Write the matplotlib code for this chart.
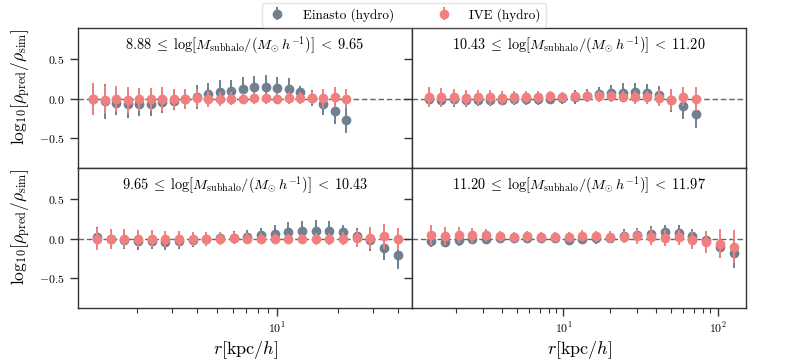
import matplotlib
matplotlib.use("Agg")
import matplotlib.pyplot as plt
import numpy as np

plt.rcParams.update({
    "font.family": "serif",
    "font.serif": ["cmr10", "DejaVu Serif"],
    "mathtext.fontset": "cm",
    "axes.formatter.use_mathtext": True,
    "axes.unicode_minus": True,
})

# ---------------- data ----------------
titles = [
    r"$8.88\;\leq\;\mathrm{log}[M_{\mathrm{subhalo}}/(M_{\odot}\,h^{-1})]\;<\;9.65$",
    r"$10.43\;\leq\;\mathrm{log}[M_{\mathrm{subhalo}}/(M_{\odot}\,h^{-1})]\;<\;11.20$",
    r"$9.65\;\leq\;\mathrm{log}[M_{\mathrm{subhalo}}/(M_{\odot}\,h^{-1})]\;<\;10.43$",
    r"$11.20\;\leq\;\mathrm{log}[M_{\mathrm{subhalo}}/(M_{\odot}\,h^{-1})]\;<\;11.97$",
]

# panel 1 (top-left)
r_tl = [1.211, 1.382, 1.577, 1.800, 2.054, 2.344, 2.675, 3.053, 3.484, 3.976, 4.537,
        5.178, 5.909, 6.744, 7.696, 8.782, 10.02, 11.44, 13.05, 14.90, 17.00, 19.40, 22.14]
ein_tl = [0.0, -0.034, -0.055, -0.07, -0.063, -0.063, -0.046, -0.025, 0.0, 0.025, 0.06,
          0.085, 0.105, 0.13, 0.145, 0.15, 0.14, 0.12, 0.08, 0.01, -0.063, -0.16, -0.27]
ein_tl_err = [0.2, 0.22, 0.15, 0.18, 0.15, 0.16, 0.13, 0.12, 0.13, 0.15, 0.14,
              0.16, 0.14, 0.15, 0.15, 0.15, 0.135, 0.14, 0.085, 0.1, 0.14, 0.16, 0.16]
ive_tl = [0.0, -0.01, -0.004, -0.015, -0.008, -0.008, 0.0, 0.0, 0.0, 0.01, 0.0,
          0.0, 0.0, 0.0, 0.004, 0.004, 0.0, 0.01, 0.01, 0.015, 0.008, 0.02, 0.0]
ive_tl_err = [0.2, 0.18, 0.17, 0.16, 0.15, 0.15, 0.15, 0.13, 0.13, 0.11, 0.1,
              0.09, 0.08, 0.07, 0.07, 0.07, 0.07, 0.07, 0.08, 0.08, 0.12, 0.13, 0.12]

# panel 2 (top-right)
r_tr = [1.349, 1.616, 1.936, 2.320, 2.779, 3.330, 3.990, 4.780, 5.728, 6.862, 8.222,
        9.851, 11.80, 14.14, 16.95, 20.30, 24.33, 29.15, 34.92, 41.85, 50.14, 60.07, 71.97]
ein_tr = [-0.005, -0.01, -0.008, -0.01, -0.01, -0.01, -0.01, -0.008, -0.005, -0.005, 0.0,
          0.005, 0.02, 0.04, 0.055, 0.07, 0.075, 0.08, 0.075, 0.045, -0.02, -0.09, -0.19]
ein_tr_err = [0.1, 0.1, 0.1, 0.09, 0.08, 0.08, 0.07, 0.07, 0.07, 0.07, 0.07,
              0.07, 0.09, 0.08, 0.1, 0.11, 0.12, 0.12, 0.11, 0.12, 0.15, 0.17, 0.18]
ive_tr = [0.025, 0.017, 0.017, 0.008, 0.017, 0.017, 0.008, 0.017, 0.021, 0.021, 0.03,
          0.025, 0.03, 0.034, 0.034, 0.03, 0.025, 0.017, 0.017, 0.013, -0.01, 0.025, 0.0]
ive_tr_err = [0.13, 0.12, 0.11, 0.105, 0.09, 0.09, 0.085, 0.085, 0.08, 0.08, 0.07,
              0.06, 0.06, 0.06, 0.07, 0.065, 0.07, 0.08, 0.085, 0.1, 0.13, 0.12, 0.15]

# panel 3 (bottom-left)
r_bl = [1.263, 1.477, 1.729, 2.022, 2.366, 2.768, 3.238, 3.789, 4.433, 5.186, 6.067,
        7.096, 8.303, 9.712, 11.36, 13.29, 15.55, 18.19, 21.28, 24.90, 29.13, 34.08, 39.86]
ein_bl = [0.025, 0.0, -0.017, -0.03, -0.034, -0.04, -0.03, -0.02, -0.004, 0.004, 0.013,
          0.025, 0.043, 0.064, 0.08, 0.1, 0.1, 0.1, 0.08, 0.04, -0.02, -0.115, -0.21]
ein_bl_err = [0.12, 0.12, 0.11, 0.11, 0.1, 0.1, 0.1, 0.09, 0.09, 0.08, 0.08,
              0.09, 0.09, 0.11, 0.13, 0.13, 0.14, 0.12, 0.1, 0.1, 0.14, 0.16, 0.18]
ive_bl = [-0.004, 0.0, 0.0, 0.0, 0.0, 0.0, 0.0, 0.0, 0.0, 0.0, 0.01,
          0.0, 0.0, 0.0, 0.0, 0.0, 0.0, 0.0, 0.0, 0.004, 0.004, 0.03, -0.004]
ive_bl_err = [0.14, 0.13, 0.12, 0.11, 0.11, 0.1, 0.1, 0.09, 0.09, 0.08, 0.075,
              0.07, 0.07, 0.065, 0.065, 0.065, 0.075, 0.075, 0.08, 0.11, 0.14, 0.16, 0.14]

# panel 4 (bottom-right)
r_br = [1.383, 1.699, 2.086, 2.563, 3.147, 3.865, 4.747, 5.830, 7.159, 8.790, 10.79,
        13.26, 16.28, 20.00, 24.55, 30.16, 37.04, 45.49, 55.86, 68.60, 84.25, 103.5, 127.0]
ein_br = [-0.03, -0.04, -0.017, 0.0, 0.0, 0.008, 0.008, 0.008, 0.004, 0.004, -0.01,
          0.0, 0.008, 0.013, 0.035, 0.05, 0.065, 0.08, 0.07, 0.03, -0.017, -0.1, -0.18]
ein_br_err = [0.07, 0.07, 0.07, 0.07, 0.07, 0.06, 0.06, 0.06, 0.06, 0.06, 0.06,
              0.06, 0.07, 0.07, 0.085, 0.09, 0.1, 0.1, 0.1, 0.09, 0.1, 0.15, 0.19]
ive_br = [0.05, 0.035, 0.047, 0.047, 0.043, 0.03, 0.025, 0.03, 0.02, 0.02, 0.025,
          0.04, 0.03, 0.02, 0.025, 0.03, 0.025, 0.01, 0.017, -0.017, -0.047, -0.06, -0.1]
ive_br_err = [0.13, 0.11, 0.1, 0.095, 0.085, 0.07, 0.065, 0.065, 0.065, 0.06, 0.065,
              0.07, 0.075, 0.075, 0.08, 0.1, 0.11, 0.1, 0.09, 0.11, 0.14, 0.19, 0.21]

panels = [
    (r_tl, ein_tl, ein_tl_err, ive_tl, ive_tl_err),
    (r_tr, ein_tr, ein_tr_err, ive_tr, ive_tr_err),
    (r_bl, ein_bl, ein_bl_err, ive_bl, ive_bl_err),
    (r_br, ein_br, ein_br_err, ive_br, ive_br_err),
]

ein_color = "#708090"
ive_color = "#F08080"

# ---------------- figure ----------------
fig, axes = plt.subplots(2, 2, figsize=(7.89, 3.64), dpi=100, sharex="col", sharey=True)
fig.subplots_adjust(left=78/789, right=746/789, top=1-28/364, bottom=1-308/364,
                    hspace=0, wspace=0)

for ax in axes.flat:
    ax.set_xscale("log")
for i, ax in enumerate(axes.flat):
    r, e, ee, v, ve = panels[i]
    ax.axhline(0, ls="--", color="#666666", lw=1.0, zorder=1, dashes=(4, 2))
    ax.errorbar(r, e, yerr=ee, fmt="o", color=ein_color, ms=6, elinewidth=1.4,
                capsize=0, label="Einasto (hydro)", zorder=2)
    ax.errorbar(r, v, yerr=ve, fmt="o", color=ive_color, ms=6, elinewidth=1.4,
                capsize=0, label="IVE (hydro)", zorder=3)
    ax.text(0.5, 0.875, titles[i], transform=ax.transAxes, ha="center", va="center",
            fontsize=10.3)
    for s in ax.spines.values():
        s.set_color("#333333")
        s.set_linewidth(1.0)
    ax.tick_params(which="major", direction="out", length=6, width=1, color="#333333",
                   labelsize=8.5)
    ax.tick_params(which="minor", direction="out", length=3.5, width=0.8, color="#333333")

ax_tl, ax_tr, ax_bl, ax_br = axes.flat
ax_tl.set_xlim(1.015, 47.0)
ax_tr.set_xlim(1.04, 153.0)
ax_tl.set_ylim(-0.88, 0.9)
ax_tl.set_yticks([-0.5, 0.0, 0.5])
for ax in (ax_tl, ax_tr):
    ax.tick_params(axis="x", which="both", bottom=False, labelbottom=False)
for ax in (ax_tr, ax_br):
    ax.tick_params(axis="y", labelleft=False)
for ax in (ax_tl, ax_bl):
    ax.set_ylabel(r"$\mathrm{log}_{10}[\rho_{\mathrm{pred}}/\rho_{\mathrm{sim}}]$",
                  fontsize=12.5)
    ax.yaxis.set_label_coords(-0.135, 0.58)
for ax in (ax_bl, ax_br):
    ax.set_xlabel(r"$r[\mathrm{kpc}/h]$", fontsize=13, labelpad=2)

handles, labels = ax_tl.get_legend_handles_labels()
leg = fig.legend(handles, labels, loc="upper center", bbox_to_anchor=(404/789, 1.0),
                 ncol=2, fontsize=9.5, frameon=True, handlelength=1.5,
                 columnspacing=3.0, handletextpad=1.2, borderaxespad=0.2)
leg.get_frame().set_edgecolor("#dddddd")

fig.savefig("out.png", dpi=100)
